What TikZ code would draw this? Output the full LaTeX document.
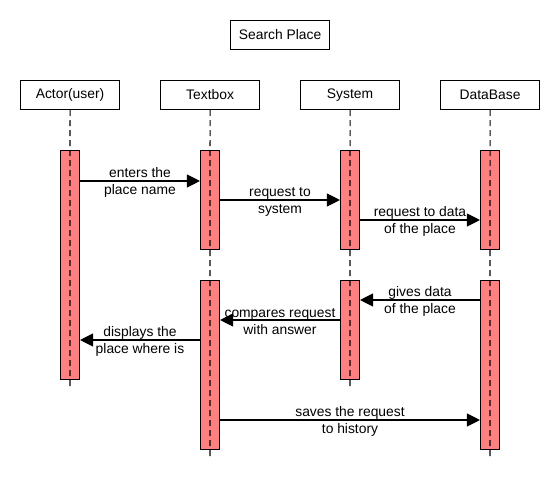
\documentclass[tikz,border=0pt]{standalone}
\usepackage{fontspec}
\setmainfont{Liberation Sans}
\usetikzlibrary{arrows.meta}
\definecolor{actfill}{HTML}{FF8080}
\begin{document}
\begin{tikzpicture}[x=1bp,y=-1bp,
  every node/.style={font=\fontsize{13.9}{17}\selectfont, text=black},
  head/.style={draw, line width=1.1bp, minimum width=99bp, minimum height=29bp, inner sep=0pt, anchor=north west},
  actbox/.style={draw, line width=1.1bp, fill=actfill, minimum width=19bp, inner sep=0pt, anchor=north},
  life/.style={line width=1.1bp, dash pattern=on 6bp off 4bp},
  msg/.style={line width=1.1bp, -{Triangle[length=13bp,width=13bp]}},
  lbl/.style={align=center, inner sep=0pt}]
\useasboundingbox (0,0) rectangle (560,500);
% title
\node[head] (title) at (230,20) {Search Place};
% heads
\node[head] (hA) at (20,80) {Actor(user)};
\node[head] (hT) at (160,80) {Textbox};
\node[head] (hS) at (300,80) {System};
\node[head] (hD) at (440,80) {DataBase};
% lifeline ends
\coordinate (eA) at (70,388);
\coordinate (eT) at (210,460);
\coordinate (eS) at (350,388);
\coordinate (eD) at (490,460);
% activations
\node[actbox, minimum height=229bp] (aA) at (70,150) {};
\node[actbox, minimum height=99bp] (aT1) at (210,150) {};
\node[actbox, minimum height=99bp] (aS1) at (350,150) {};
\node[actbox, minimum height=99bp] (aD1) at (490,150) {};
\node[actbox, minimum height=169bp] (aT2) at (210,280) {};
\node[actbox, minimum height=99bp] (aS2) at (350,280) {};
\node[actbox, minimum height=169bp] (aD2) at (490,280) {};
% lifelines
\draw[life] (hA.south) -- (eA);
\draw[life] (hT.south) -- (eT);
\draw[life] (hS.south) -- (eS);
\draw[life] (hD.south) -- (eD);
% messages
\draw[msg] (aA.east |- 0,181) -- (aT1.west |- 0,181);
\node[lbl] at (140,182.5) {enters the\\place name};
\draw[msg] (aT1.east |- 0,200) -- (aS1.west |- 0,200);
\node[lbl] at (280,201.5) {request to\\system};
\draw[msg] (aS1.east |- 0,220) -- (aD1.west |- 0,220);
\node[lbl] at (420,221.5) {request to data\\of the place};
\draw[msg] (aD2.west |- 0,300) -- (aS2.east |- 0,300);
\node[lbl] at (420,301.5) {gives data\\of the place};
\draw[msg] (aS2.west |- 0,320) -- (aT2.east |- 0,320);
\node[lbl] at (280,321.5) {compares request\\with answer};
\draw[msg] (aT2.west |- 0,340) -- (aA.east |- 0,340);
\node[lbl] at (140,341.5) {displays the\\place where is};
\draw[msg] (aT2.east |- 0,420) -- (aD2.west |- 0,420);
\node[lbl] at (350,421.5) {saves the request\\to history};
\end{tikzpicture}
\end{document}
